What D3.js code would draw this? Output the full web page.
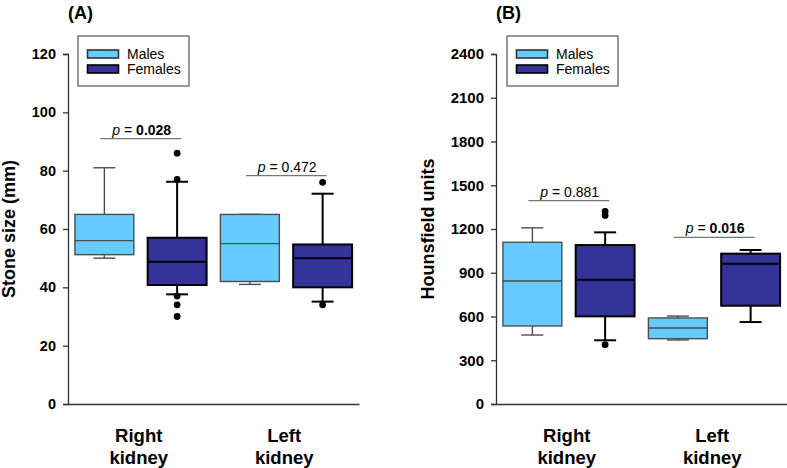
<!DOCTYPE html>
<html>
<head>
<meta charset="utf-8">
<script src="https://cdn.jsdelivr.net/npm/d3@7"></script>
<style>
  html, body { margin: 0; padding: 0; background: #fff; }
  svg { display: block; font-family: "Liberation Sans", Arial, sans-serif; }
</style>
</head>
<body>
<svg id="chart" width="787" height="468"></svg>
<script>
// ---------------- DATA ----------------
const categories = ["Right kidney", "Left kidney"];
const categoryLines = [["Right", "kidney"], ["Left", "kidney"]];
const series = ["Males", "Females"];
const seriesColors = ["#66CCFF", "#333399"];

// [lower whisker, Q1, median, Q3, upper whisker] per category
const stoneMales   = [[50, 51.2, 56, 65, 81], [41, 42, 55, 65, 65]];
const stoneFemales = [[37.6, 40.8, 48.8, 57, 76.2], [35.1, 40, 50, 54.7, 72.1]];
const stoneMalesOutliers   = [[], []];
const stoneFemalesOutliers = [[86, 77, 37, 34, 30], [76, 34]];
const stoneTicks = [0, 20, 40, 60, 80, 100, 120];
const stonePValues = ["0.028", "0.472"];
const stonePBold = [true, false];
const stonePLevel = [91, 78.3];

const huMales   = [[473, 535, 843, 1109, 1208], [439, 448, 521, 590, 603]];
const huFemales = [[437, 601, 852, 1090, 1177], [562, 674, 962, 1031, 1056]];
const huMalesOutliers   = [[], []];
const huFemalesOutliers = [[1320, 1293, 407], []];
const huTicks = [0, 300, 600, 900, 1200, 1500, 1800, 2100, 2400];
const huPValues = ["0.881", "0.016"];
const huPBold = [false, true];
const huPLevel = [1394, 1143];

// ---------------- DRAW ----------------
const svg = d3.select("#chart");

function panel(opts) {
  const g = svg.append("g");
  const x0 = opts.left, x1 = opts.right, yTop = 54, yBot = 404;
  const y = d3.scaleLinear().domain([0, d3.max(opts.ticks)]).range([yBot, yTop]);
  const xg = d3.scaleBand().domain(categories).range([x0, x1]).padding(0);
  const xs = d3.scaleBand().domain(series).range([0, xg.bandwidth()]).padding(0);
  const boxW = xs.bandwidth() * 0.81;
  const capW = 22;

  // title
  g.append("text").attr("x", x0).attr("y", 19)
    .attr("font-size", 18).attr("font-weight", "bold").attr("fill", "#000")
    .text(opts.title);

  // y axis
  const yAxis = d3.axisLeft(y).tickValues(opts.ticks).tickSize(5).tickPadding(7).tickFormat(d3.format("d"));
  const ya = g.append("g").attr("transform", `translate(${x0},0)`).call(yAxis);
  ya.select(".domain").attr("stroke", "#333").attr("stroke-width", 1.3);
  ya.selectAll(".tick line").attr("stroke", "#333").attr("stroke-width", 1.3);
  ya.selectAll(".tick text").attr("font-size", opts.tickFont).attr("font-weight", "bold")
    .attr("fill", "#000").attr("font-family", "Liberation Sans, Arial, sans-serif");

  // x axis line
  const xa = g.append("g").attr("transform", `translate(0,${yBot})`)
    .call(d3.axisBottom(xg).tickSize(0).tickFormat(""));
  xa.select(".domain").attr("stroke", "#333").attr("stroke-width", 1.3);

  // x category labels
  categories.forEach((c, i) => {
    const cx = xg(c) + xg.bandwidth() / 2 - 2;
    const t = g.append("text").attr("text-anchor", "middle")
      .attr("font-size", 18.5).attr("font-weight", "bold").attr("fill", "#000");
    t.append("tspan").attr("x", cx).attr("y", 442).text(categoryLines[i][0]);
    t.append("tspan").attr("x", cx).attr("y", 464).text(categoryLines[i][1]);
  });

  // y label
  g.append("text")
    .attr("transform", `translate(${opts.ylabX},${(yTop + yBot) / 2}) rotate(-90)`)
    .attr("text-anchor", "middle").attr("font-size", 18).attr("font-weight", "bold")
    .attr("fill", "#000").text(opts.ylabel);

  // boxes
  const sets = [
    { s: series[0], stats: opts.males, out: opts.malesOut, fill: seriesColors[0], stroke: "#4d4d4d", sw: 1.4 },
    { s: series[1], stats: opts.females, out: opts.femalesOut, fill: seriesColors[1], stroke: "#000", sw: 2 }
  ];
  sets.forEach(set => {
    categories.forEach((c, i) => {
      const [lo, q1, med, q3, hi] = set.stats[i];
      const cx = xg(c) + xs(set.s) + xs.bandwidth() / 2;
      const bg = g.append("g");
      // whiskers
      bg.append("line").attr("x1", cx).attr("x2", cx).attr("y1", y(q3)).attr("y2", y(hi))
        .attr("stroke", set.stroke).attr("stroke-width", set.sw);
      bg.append("line").attr("x1", cx).attr("x2", cx).attr("y1", y(q1)).attr("y2", y(lo))
        .attr("stroke", set.stroke).attr("stroke-width", set.sw);
      bg.append("line").attr("x1", cx - capW / 2).attr("x2", cx + capW / 2).attr("y1", y(hi)).attr("y2", y(hi))
        .attr("stroke", set.stroke).attr("stroke-width", set.sw);
      bg.append("line").attr("x1", cx - capW / 2).attr("x2", cx + capW / 2).attr("y1", y(lo)).attr("y2", y(lo))
        .attr("stroke", set.stroke).attr("stroke-width", set.sw);
      // box
      bg.append("rect").attr("x", cx - boxW / 2).attr("width", boxW)
        .attr("y", y(q3)).attr("height", y(q1) - y(q3))
        .attr("fill", set.fill).attr("stroke", set.stroke).attr("stroke-width", set.sw);
      bg.append("line").attr("x1", cx - boxW / 2).attr("x2", cx + boxW / 2).attr("y1", y(med)).attr("y2", y(med))
        .attr("stroke", set.stroke).attr("stroke-width", set.sw);
      // outliers
      bg.selectAll("circle").data(set.out[i]).join("circle")
        .attr("cx", cx).attr("cy", d => y(d)).attr("r", 3.4).attr("fill", "#000");
    });
  });

  // p-value brackets
  categories.forEach((c, i) => {
    const cx = xg(c) + xg.bandwidth() / 2;
    const ly = y(opts.pLevel[i]);
    g.append("line").attr("x1", cx - 40.5).attr("x2", cx + 40.5).attr("y1", ly).attr("y2", ly)
      .attr("stroke", "#777").attr("stroke-width", 1.2);
    const t = g.append("text").attr("x", cx + 1).attr("y", ly - 4).attr("text-anchor", "middle")
      .attr("font-size", 14).attr("fill", "#000");
    t.append("tspan").attr("font-style", "italic").text("p");
    t.append("tspan").text(" = ");
    t.append("tspan").attr("font-weight", opts.pBold[i] ? "bold" : "normal").text(opts.pValues[i]);
  });

  // legend
  const lg = g.append("g").attr("transform", `translate(${opts.legX},36)`);
  lg.append("rect").attr("x", 0).attr("y", 0).attr("width", 111).attr("height", 50)
    .attr("fill", "#fff").attr("stroke", "#555").attr("stroke-width", 1.2);
  series.forEach((s, i) => {
    lg.append("rect").attr("x", 9.5).attr("y", 14 + i * 15).attr("width", 31).attr("height", 8)
      .attr("fill", seriesColors[i]).attr("stroke", i === 0 ? "#333" : "#000").attr("stroke-width", 1.6);
    lg.append("text").attr("x", 49).attr("y", 23 + i * 15).attr("font-size", 14).attr("fill", "#000").text(s);
  });
}

panel({
  title: "(A)", left: 68, right: 359, ticks: stoneTicks, tickFont: 14.5,
  males: stoneMales, females: stoneFemales, malesOut: stoneMalesOutliers, femalesOut: stoneFemalesOutliers,
  pValues: stonePValues, pBold: stonePBold, pLevel: stonePLevel,
  ylabel: "Stone size (mm)", ylabX: 15, legX: 78
});
panel({
  title: "(B)", left: 496, right: 787, ticks: huTicks, tickFont: 15,
  males: huMales, females: huFemales, malesOut: huMalesOutliers, femalesOut: huFemalesOutliers,
  pValues: huPValues, pBold: huPBold, pLevel: huPLevel,
  ylabel: "Hounsfield units", ylabX: 434, legX: 507
});
</script>
</body>
</html>
